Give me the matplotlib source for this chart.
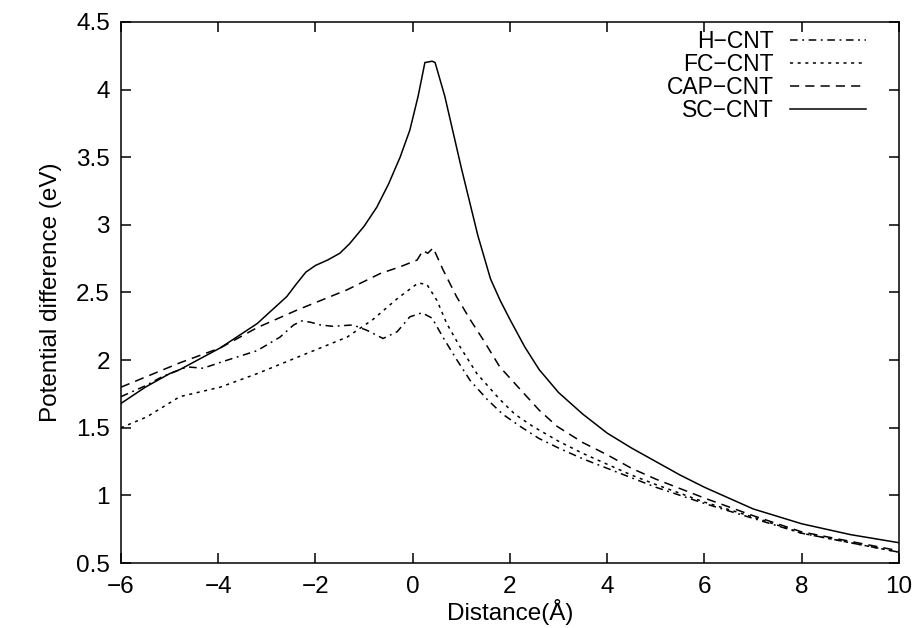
import matplotlib
matplotlib.use('Agg')
import matplotlib.pyplot as plt

plt.rcParams['font.family'] = ['Liberation Sans', 'DejaVu Sans']
plt.rcParams['font.size'] = 17.5

# values
h_x = [-6, -5.5, -5.14, -4.64, -4.31, -3.9, -3.2, -2.73, -2.45, -2.28, -2.1, -1.9, -1.64, -1.23, -0.94, -0.61,
       -0.32, -0.06, 0.19, 0.4, 0.62, 0.91, 1.18, 1.53, 1.85, 2.21, 2.6, 3, 3.5, 4, 4.5, 5, 6, 7, 8, 9, 10]
h_y = [1.73, 1.81, 1.88, 1.95, 1.94, 1.99, 2.07, 2.17, 2.26, 2.29, 2.28, 2.26, 2.25, 2.26, 2.22, 2.16,
       2.21, 2.32, 2.35, 2.31, 2.17, 2.0, 1.85, 1.71, 1.6, 1.51, 1.42, 1.35, 1.27, 1.2, 1.13, 1.06, 0.94, 0.83, 0.72, 0.65, 0.58]

fc_x = [-6, -5.47, -4.79, -3.96, -3.2, -2.38, -1.35, -0.82, -0.3, 0.11, 0.29, 0.5, 0.7, 0.97,
        1.32, 1.79, 2.1, 2.47, 3, 3.5, 4, 4.5, 5, 6, 7, 8, 9, 10]
fc_y = [1.5, 1.58, 1.73, 1.8, 1.9, 2.02, 2.17, 2.3, 2.46, 2.57, 2.56, 2.44, 2.27, 2.1,
        1.9, 1.71, 1.6, 1.51, 1.4, 1.31, 1.23, 1.15, 1.08, 0.95, 0.84, 0.72, 0.65, 0.58]

cap_x = [-6, -4.79, -3.96, -3.2, -2.38, -1.35, -0.67, -0.26, 0.09, 0.21, 0.31, 0.42, 0.62, 0.9,
         1.18, 1.45, 1.79, 2.27, 2.6, 2.97, 3.5, 4, 4.5, 5, 6, 7, 8, 9, 10]
cap_y = [1.8, 1.98, 2.09, 2.24, 2.37, 2.52, 2.64, 2.69, 2.74, 2.81, 2.79, 2.83, 2.67, 2.47,
         2.3, 2.15, 1.95, 1.76, 1.63, 1.51, 1.39, 1.3, 1.2, 1.12, 0.98, 0.85, 0.73, 0.66, 0.59]

sc_x = [-6, -5.5, -5, -4.79, -3.96, -3.2, -2.59, -2.4, -2.2, -2.0, -1.75, -1.5, -1.3, -1.0, -0.74, -0.5, -0.26,
        -0.06, 0.11, 0.25, 0.4, 0.46, 0.66, 1.0, 1.34, 1.6, 1.8, 2.0, 2.3, 2.6, 3, 3.5, 4, 4.5, 5, 5.5, 6, 7, 8, 9, 10]
sc_y = [1.68, 1.8, 1.9, 1.93, 2.09, 2.27, 2.47, 2.56, 2.65, 2.7, 2.74, 2.79, 2.86, 2.99, 3.13, 3.3, 3.5,
        3.7, 3.95, 4.2, 4.21, 4.2, 3.95, 3.42, 2.92, 2.6, 2.44, 2.3, 2.1, 1.93, 1.76, 1.6, 1.46, 1.35, 1.25, 1.15, 1.06, 0.9, 0.79, 0.71, 0.65]

fig = plt.figure(figsize=(9.16, 6.28), dpi=100)
ax = fig.add_axes([0.1321, 0.1035, 0.8493, 0.8615])

lw = 1.1
ax.plot(h_x, h_y, color='black', lw=lw, linestyle=(0, (5, 3, 1.2, 3)), label='H−CNT')
ax.plot(fc_x, fc_y, color='black', lw=lw, linestyle=(0, (2, 3)), label='FC−CNT')
ax.plot(cap_x, cap_y, color='black', lw=lw, linestyle=(0, (6, 4)), label='CAP−CNT')
ax.plot(sc_x, sc_y, color='black', lw=lw, linestyle='-', label='SC−CNT')

ax.set_xlim(-6, 10)
ax.set_ylim(0.5, 4.5)
ax.set_xticks(range(-6, 11, 2))
ax.set_yticks([0.5, 1, 1.5, 2, 2.5, 3, 3.5, 4, 4.5])
ax.set_yticklabels(['0.5', '1', '1.5', '2', '2.5', '3', '3.5', '4', '4.5'])
ax.tick_params(direction='in', length=7, width=1.1, top=True, right=True)
ax.tick_params(axis='x', pad=9)
ax.tick_params(axis='y', pad=8)
for s in ax.spines.values():
    s.set_linewidth(1.1)

ax.set_xlabel('Distance(Å)', labelpad=1)
ax.set_ylabel('Potential difference (eV)', labelpad=10)

ax.legend(loc='upper right', bbox_to_anchor=(0.957, 0.985), frameon=False, markerfirst=False,
          fontsize=16.5, handlelength=3.3, handletextpad=0.7, labelspacing=0.0,
          borderpad=0, borderaxespad=0)

fig.savefig('out.png', dpi=100)
